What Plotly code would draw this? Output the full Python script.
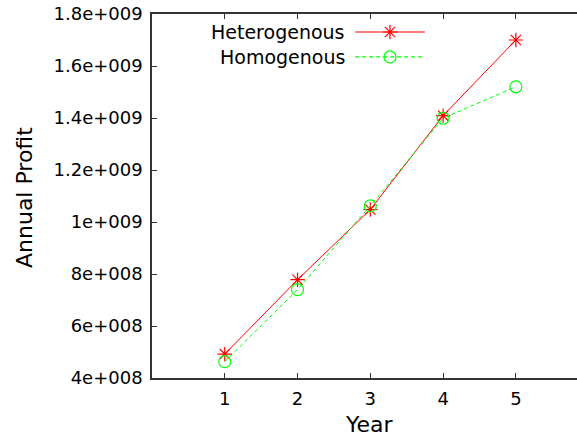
import plotly.graph_objects as go

years = [1, 2, 3, 4, 5]
heterogenous = [4.92e8, 7.78e8, 1.048e9, 1.409e9, 1.70e9]
homogenous = [4.63e8, 7.40e8, 1.062e9, 1.399e9, 1.52e9]

x_ticks = [1, 2, 3, 4, 5]
y_tick_vals = [4e8, 6e8, 8e8, 1e9, 1.2e9, 1.4e9, 1.6e9, 1.8e9]
y_tick_labels = ["4e+008", "6e+008", "8e+008", "1e+009",
                 "1.2e+009", "1.4e+009", "1.6e+009", "1.8e+009"]
series_names = ["Heterogenous", "Homogenous"]

RED = "#ff0000"
GREEN = "#00ff00"
FONT = "DejaVu Sans, sans-serif"

fig = go.Figure()
fig.add_trace(go.Scatter(
    x=years, y=heterogenous, mode="lines+markers", name=series_names[0],
    line=dict(color=RED, width=1),
    marker=dict(symbol="asterisk-open", size=12, color=RED, line=dict(color=RED, width=1.2)),
    showlegend=False))
fig.add_trace(go.Scatter(
    x=years, y=homogenous, mode="lines+markers", name=series_names[1],
    line=dict(color=GREEN, width=1, dash="4px,3px"),
    marker=dict(symbol="circle-open", size=12, color=GREEN, line=dict(color=GREEN, width=1.2)),
    showlegend=False))

# custom legend (text left of sample, gnuplot style)
leg_text_x = 0.459
leg_line = (0.478, 0.642)
leg_mark_x = 0.56
leg_rows = [0.9505, 0.882]
styles = [dict(color=RED, width=1.2), dict(color=GREEN, width=1.2, dash="4px,3px")]
symbols = ["asterisk-open", "circle-open"]
colors = [RED, GREEN]
for name, ry, st, sym, c in zip(series_names, leg_rows, styles, symbols, colors):
    fig.add_annotation(x=leg_text_x, y=ry, xref="paper", yref="paper",
                       text=name, showarrow=False, xanchor="right", yanchor="middle",
                       font=dict(family=FONT, size=19, color="black"))
    fig.add_shape(type="line", xref="paper", yref="paper",
                  x0=leg_line[0], x1=leg_line[1], y0=ry, y1=ry, line=st)
    fig.add_trace(go.Scatter(x=[leg_mark_x], y=[ry], xaxis="x2", yaxis="y2",
                             mode="markers", showlegend=False, hoverinfo="skip",
                             marker=dict(symbol=sym, size=12, color=c,
                                         line=dict(color=c, width=1.2))))

# axis titles as annotations (placed relative to plot area)
fig.add_annotation(x=(369 - 152) / 425, y=-(424 - 378) / 364, xref="paper", yref="paper",
                   text="Year", showarrow=False, xanchor="center", yanchor="middle",
                   font=dict(family=FONT, size=22, color="black"))
fig.add_annotation(x=-(152 - 24) / 425, y=1 - (198 - 14) / 364, xref="paper", yref="paper",
                   text="Annual Profit", showarrow=False, textangle=-90,
                   xanchor="center", yanchor="middle",
                   font=dict(family=FONT, size=22, color="black"))

fig.update_layout(
    width=577, height=437,
    margin=dict(l=152, r=0, t=14, b=59),
    paper_bgcolor="white", plot_bgcolor="white",
    font=dict(family=FONT, size=18, color="black"),
    showlegend=False,
    xaxis=dict(range=[0, 5.84], tickvals=x_ticks, ticks="inside", ticklen=5,
               tickcolor="#333", showline=True, linecolor="#333", linewidth=1.5,
               mirror="ticks", showgrid=False, zeroline=False, automargin=False,
               ticklabeloverflow="allow",
               tickfont=dict(family=FONT, size=18), ticklabelstandoff=4),
    yaxis=dict(range=[4e8, 1.8e9], tickvals=y_tick_vals, ticktext=y_tick_labels,
               ticks="inside", ticklen=5, tickcolor="#333", showline=True,
               linecolor="#333", linewidth=1.5, mirror=False, showgrid=False,
               zeroline=False, automargin=False, ticklabelstandoff=4,
               ticklabeloverflow="allow",
               tickfont=dict(family=FONT, size=18)),
    xaxis2=dict(overlaying="x", range=[0, 1], visible=False),
    yaxis2=dict(overlaying="y", range=[0, 1], visible=False),
)

fig.write_html("out.html",
               config={"displayModeBar": False},
               post_script="document.body.style.margin='0px';"
                           "document.body.style.overflow='hidden';")
